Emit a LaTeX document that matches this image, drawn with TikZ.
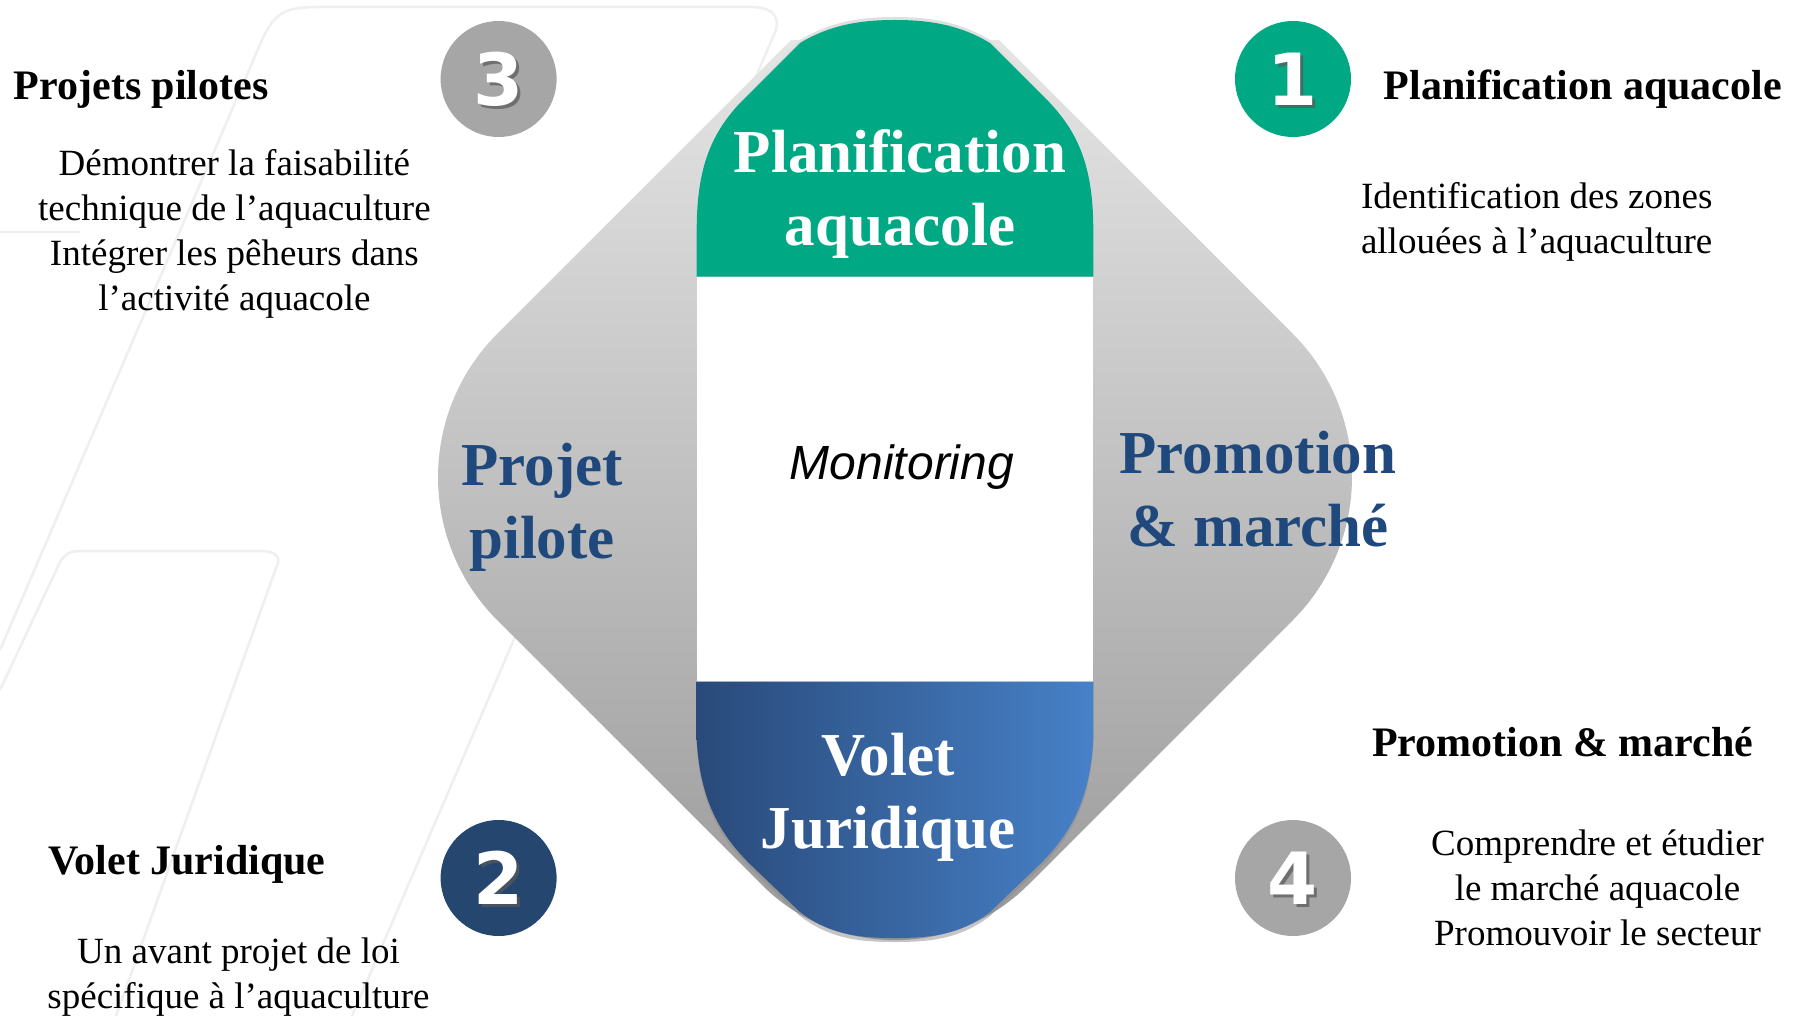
\documentclass[tikz,border=0pt]{standalone}
\usepackage{fontspec}
\setmainfont{Liberation Serif}
\newfontfamily\numfont{DejaVu Sans}
\newfontfamily\monfont{Liberation Sans}
\definecolor{bglc}{HTML}{EFEFEF}
\definecolor{vert}{HTML}{00A984}
\definecolor{marine}{HTML}{24466F}
\definecolor{gris}{HTML}{A6A6A6}
\definecolor{bleutxt}{HTML}{1F497D}
\definecolor{gtop}{HTML}{E5E5E5}
\definecolor{gmid}{HTML}{D6D6D6}
\definecolor{gbot}{HTML}{999999}
\definecolor{bleft}{HTML}{294A7A}
\definecolor{bright}{HTML}{4781C8}
\begin{document}
\begin{tikzpicture}[x=1pt,y=-1pt,
  bgline/.style={draw=bglc, line width=2.5pt},
  numcirc/.style={circle, minimum size=116pt, inner sep=0pt},
  digit/.style={font=\numfont\bfseries\fontsize{72}{72}\selectfont, text=white, inner sep=0pt},
  digitshadow/.style={font=\numfont\bfseries\fontsize{72}{72}\selectfont, text=black!65, inner sep=0pt, opacity=0.7},
  head/.style={font=\bfseries\fontsize{42}{50}\selectfont, anchor=base west, inner sep=0pt},
  body/.style={font=\fontsize{37}{45}\selectfont, align=center, inner sep=0pt},
  big/.style={font=\bfseries\fontsize{61}{73}\selectfont, align=center, inner sep=0pt}]
\useasboundingbox (0,0) rectangle (1793,1016);
\fill[white] (0,0) rectangle (1793,1016);
% faint background strokes
\draw[bgline] (0,650) -- (262,40) .. controls (275,12) and (285,7) .. (320,7) -- (750,7) .. controls (770,7) and (780,14) .. (776,30) -- (352,1016);
\draw[bgline] (0,690) -- (60,562) .. controls (66,553) and (70,551) .. (82,551) -- (262,551) .. controls (276,551) and (282,558) .. (276,568) -- (116,1016);
\draw[bgline] (0,232) -- (80,232);
% gray diamond
\path[top color=gtop, middle color=gmid, bottom color=gbot]
  (791,40) -- (497.5,333.5) .. controls (418.2,412.8) and (418.2,541.2) .. (497.5,620.5)
  -- (762,885) .. controls (835.5,958.5) and (954.5,958.5) .. (1028,885)
  -- (1292.5,620.5) .. controls (1371.8,541.2) and (1371.8,412.8) .. (1292.5,333.5)
  -- (999,40) -- cycle;
% white column
\fill[white] (696.7,276.7) rectangle (1093.3,681.5);
% green top
\fill[gray!25] (696.7,276.7) -- (696.7,227) .. controls (696.7,167) and (710,132) .. (740,100) -- (800,40) .. controls (830,22) and (860,17) .. (895,17) .. controls (930,17) and (960,22) .. (990,40) -- (1050,100) .. controls (1080,132) and (1093.3,167) .. (1093.3,227) -- (1093.3,276.7) -- cycle;
\fill[vert] (696.7,276.7) -- (696.7,230) .. controls (696.7,170) and (710,135) .. (740,103) -- (800,43) .. controls (830,25) and (860,20) .. (895,20) .. controls (930,20) and (960,25) .. (990,43) -- (1050,103) .. controls (1080,135) and (1093.3,170) .. (1093.3,230) -- (1093.3,276.7) -- cycle;
% blue bottom
\fill[black!45, opacity=0.5] (696.7,681.5) -- (696.7,744) .. controls (700,804) and (720,839) .. (752,870) -- (800,916) .. controls (830,939) and (860,942) .. (895,942) .. controls (930,942) and (960,939) .. (990,916) -- (1038,870) .. controls (1070,839) and (1090,804) .. (1093.3,744) -- (1093.3,681.5) -- cycle;
\path[left color=bleft, right color=bright] (696.7,681.5) -- (696.7,740) .. controls (700,800) and (720,835) .. (752,866) -- (800,912) .. controls (830,935) and (860,938) .. (895,938) .. controls (930,938) and (960,935) .. (990,912) -- (1038,866) .. controls (1070,835) and (1090,800) .. (1093.3,740) -- (1093.3,681.5) -- cycle;
% central labels
\node[big, text=white] (plan) at (900,194) {Planification\\aquacole};
\node[big, text=bleutxt] (pilote) at (542,507.5) {Projet\\pilote};
\node[big, text=bleutxt] (promo) at (1258,489) {Promotion\\\& marché};
\node[big, text=white] (jur) at (888,797) {Volet\\Juridique};
\node[font=\monfont\itshape\fontsize{48}{56}\selectfont, inner sep=0pt] (mon) at (902,467) {Monitoring};
% number circles
\node[numcirc, fill=gris] (c3) at (498.6,79) {};
\node[numcirc, fill=vert] (c1) at (1293,79) {};
\node[numcirc, fill=marine] (c2) at (498.6,878) {};
\node[numcirc, fill=gris] (c4) at (1293,878) {};
\foreach \c/\n in {c3/3, c1/1, c2/2, c4/4}{
  \node[digitshadow] (\c s) at ([xshift=3pt, yshift=-3pt]\c.center) {\n};
  \node[digit] (\c d) at (\c.center) {\n};
}
% side headings
\node[head] (h3) at (13.7,100) {Projets pilotes};
\node[head] (h1) at (1383.6,99.5) {Planification aquacole};
\node[head] (h2) at (48,874.8) {Volet Juridique};
\node[head] (h4) at (1372,756) {Promotion \& marché};
% side texts
\node[body] (b3) at (234.4,233.5) {Démontrer la faisabilité\\technique de l’aquaculture\\Intégrer les pêheurs dans\\l’activité aquacole};
\node[body, align=left, anchor=west] (b1) at (1360.8,221.5) {Identification des zones\\allouées à l’aquaculture};
\node[body] (b2) at (238.5,977) {Un avant projet de loi\\spécifique à l’aquaculture};
\node[body] (b4) at (1597.5,887.4) {Comprendre et étudier\\le marché aquacole\\Promouvoir le secteur};
\end{tikzpicture}
\end{document}
